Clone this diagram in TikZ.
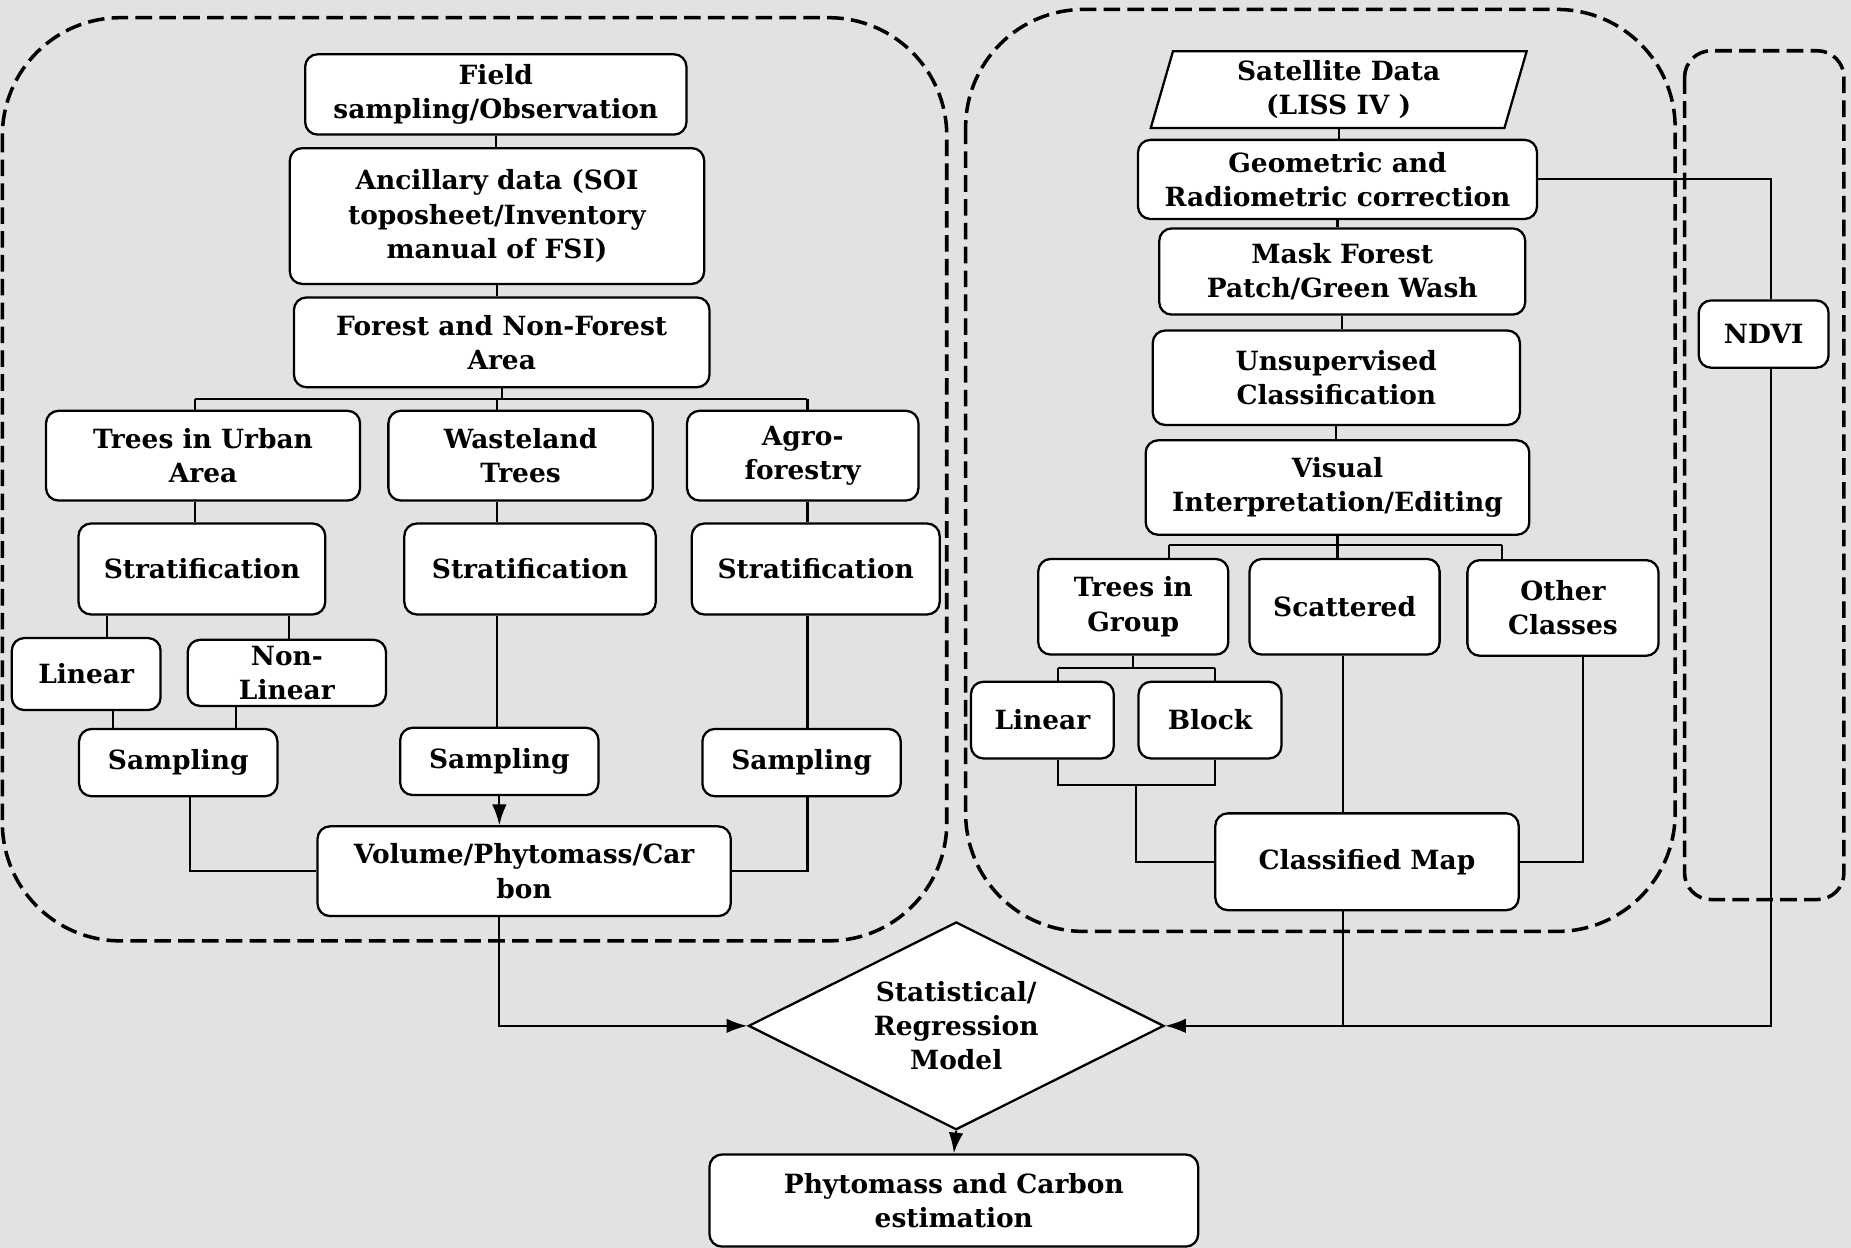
\documentclass[tikz,border=0pt]{standalone}
\usepackage{fontspec}
\setmainfont{DejaVu Serif}
\usetikzlibrary{shapes.geometric}
\usetikzlibrary{arrows.meta}
\definecolor{bgtone}{RGB}{226,226,224}
\tikzset{
  box/.style={draw, line width=1.1pt, rounded corners=6pt, fill=white, align=center,
    font=\bfseries\fontsize{12.75pt}{16.5pt}\selectfont, inner sep=2pt},
  sz/.style 2 args={minimum width=#1*0.02cm, minimum height=#2*0.02cm},
  link/.style={line width=1pt},
  arr/.style={line width=1pt, -{Latex[length=10pt,width=7pt]}},
  zone/.style={draw, line width=1.7pt, dash pattern=on 8pt off 3.5pt},
}

\begin{document}
\begin{tikzpicture}[x=0.02cm, y=-0.02cm]
	\useasboundingbox (0,0) rectangle (1568,1057);
	\fill[bgtone] (0,0) rectangle (1568,1057);
	\draw[zone, rounded corners=2cm] (2,15) rectangle (802,797);
	\draw[zone, rounded corners=2cm] (818,8) rectangle (1419,789);
	\draw[zone, rounded corners=0.45cm] (1427,43) rectangle (1562,762);

	\node[box, sz={323}{68}] (field) at (420,80) {Field\\sampling/Observation};
	\node[box, sz={351}{115}] (ancil) at (421,183) {Ancillary data (SOI\\toposheet/Inventory\\manual of FSI)};
	\node[box, sz={352}{76}] (forest) at (425,290) {Forest and Non-Forest\\Area};
	\node[box, sz={266}{76}] (urban) at (172,386) {Trees in Urban\\Area};
	\node[box, sz={224}{76}] (waste) at (441,386) {Wasteland\\Trees};
	\node[box, sz={196}{76}] (agro) at (680,386) {Agro-\\forestry};
	\node[box, sz={209}{77}] (stratU) at (171,482) {Stratification};
	\node[box, sz={213}{77}] (stratW) at (449,482) {Stratification};
	\node[box, sz={210}{77}] (stratA) at (691,482) {Stratification};
	\node[box, sz={126}{61}] (linU) at (73,571) {Linear};
	\node[box, sz={168}{56}, inner sep=1pt] (nonlinU) at (243,570) {Non-\\Linear};
	\node[box, sz={168}{57}] (sampU) at (151,646) {Sampling};
	\node[box, sz={168}{57}] (sampW) at (423,645) {Sampling};
	\node[box, sz={168}{57}] (sampA) at (679,646) {Sampling};
	\node[box, sz={350}{76}] (vol) at (444,738) {Volume/Phytomass/Car\\bon};
	\node[box, diamond, rounded corners=0pt, aspect=2, inner sep=0pt, sz={352}{176}] (model) at (810,869) {Statistical/\\Regression\\Model};
	\node[box, sz={414}{78}] (result) at (808,1017) {Phytomass and Carbon\\estimation};

	\node[box, trapezium, trapezium left angle=78, trapezium right angle=102, trapezium stretches=true, rounded corners=0pt, sz={319}{65}] (sat) at (1134,76) {Satellite Data\\(LISS IV )};
	\node[box, sz={338}{67}] (geo) at (1133,152) {Geometric and\\Radiometric correction};
	\node[box, sz={310}{73}] (mask) at (1137,230) {Mask Forest\\Patch/Green Wash};
	\node[box, sz={311}{80}] (unsup) at (1132,320) {Unsupervised\\Classification};
	\node[box, sz={325}{80}] (visual) at (1133,413) {Visual\\Interpretation/Editing};
	\node[box, sz={161}{81}] (trgroup) at (960,514) {Trees in\\Group};
	\node[box, sz={161}{81}] (scat) at (1139,514) {Scattered};
	\node[box, sz={162}{81}] (other) at (1324,515) {Other\\Classes};
	\node[box, sz={121}{65}] (linG) at (883,610) {Linear};
	\node[box, sz={121}{65}] (block) at (1025,610) {Block};
	\node[box, sz={257}{82}] (cmap) at (1158,730) {Classified Map};
	\node[box, sz={110}{57}] (ndvi) at (1494,283) {NDVI};

	\coordinate (lb1) at (165,338);
	\coordinate (lb2) at (421,338);
	\coordinate (lb3) at (684,338);
	\draw[link] (field.south) -- (field.south |- ancil.north);
	\draw[link] (ancil.south) -- (ancil.south |- forest.north);
	\draw[link] (forest.south) -- (forest.south |- lb2);
	\draw[link] (lb1) -- (lb3);
	\draw[link] (lb1) -- (lb1 |- urban.north);
	\draw[link] (lb2) -- (lb2 |- waste.north);
	\draw[link] (lb3) -- (lb3 |- agro.north);
	\draw[link] (lb1 |- urban.south) -- (lb1 |- stratU.north);
	\draw[link] (lb2 |- waste.south) -- (lb2 |- stratW.north);
	\draw[link] (lb3 |- agro.south) -- (lb3 |- stratA.north);
	\draw[link] (stratU.south -| 91,0) -- (linU.north -| 91,0);
	\draw[link] (stratU.south -| 245,0) -- (nonlinU.north -| 245,0);
	\draw[link] (linU.south -| 96,0) -- (sampU.north -| 96,0);
	\draw[link] (nonlinU.south -| 200,0) -- (sampU.north -| 200,0);
	\draw[link] (lb2 |- stratW.south) -- (lb2 |- sampW.north);
	\draw[link] (lb3 |- stratA.south) -- (lb3 |- sampA.north);
	\draw[arr] (sampW.south) -- (sampW.south |- vol.north);
	\draw[link] (sampU.south -| 161,0) |- (vol.west);
	\draw[link] (lb3 |- sampA.south) |- (vol.east);
	\draw[arr] (sampW.south |- vol.south) |- (model.west);
	\draw[arr] (model.south) -- (result.north);

	\coordinate (rb1) at (990,462);
	\coordinate (rb2) at (1133,462);
	\coordinate (rb3) at (1272,462);
	\coordinate (gb1) at (896,566);
	\coordinate (gb2) at (1029,566);
	\coordinate (gb3) at (896,665);
	\coordinate (gb4) at (1029,665);
	\coordinate (gb5) at (962,665);
	\draw[link] (sat.south) -- (sat.south |- geo.north);
	\draw[link] (geo.south) -- (geo.south |- mask.north);
	\draw[link] (mask.south) -- (mask.south |- unsup.north);
	\draw[link] (unsup.south) -- (unsup.south |- visual.north);
	\draw[link] (visual.south) -- (visual.south |- rb2);
	\draw[link] (rb1) -- (rb3);
	\draw[link] (rb1) -- (rb1 |- trgroup.north);
	\draw[link] (rb2) -- (rb2 |- scat.north);
	\draw[link] (rb3) -- (rb3 |- other.north);
	\draw[link] (trgroup.south) -- (trgroup.south |- gb1);
	\draw[link] (gb1) -- (gb2);
	\draw[link] (gb1) -- (gb1 |- linG.north);
	\draw[link] (gb2) -- (gb2 |- block.north);
	\draw[link] (gb1 |- linG.south) -- (gb3) -- (gb4) -- (gb2 |- block.south);
	\draw[link] (gb5) |- (cmap.west);
	\draw[link] (scat.south -| 1138,0) -- (cmap.north -| 1138,0);
	\draw[link] (other.south -| 1341,0) |- (cmap.east);
	\draw[link] (cmap.south -| 1138,0) -- (model.east -| 1138,0);
	\draw[link] (geo.east) -| (ndvi.north -| 1500,0);
	\draw[arr] (ndvi.south -| 1500,0) |- (model.east);
\end{tikzpicture}
\end{document}
